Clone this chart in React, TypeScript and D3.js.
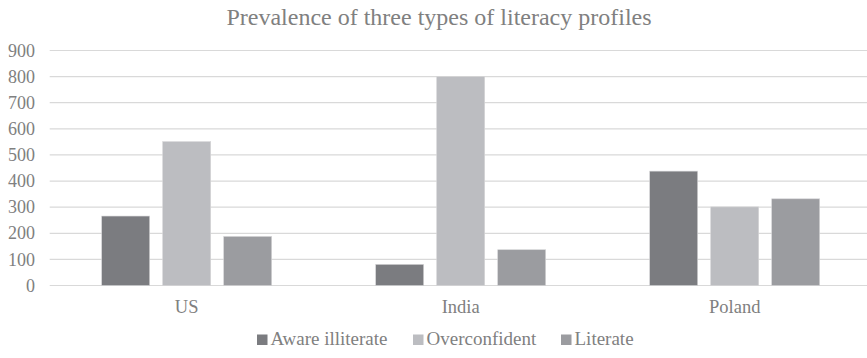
import React from "react";
import * as d3 from "d3";

// Countries on the category axis
const countries = ["US", "India", "Poland"];
// Literacy profile series
const profiles = ["Aware illiterate", "Overconfident", "Literate"];
const awareIlliterate = [266, 81, 438];
const overconfident = [551, 800, 301];
const literate = [188, 137, 332];
const yTicks = [0, 100, 200, 300, 400, 500, 600, 700, 800, 900];

const seriesValues = [awareIlliterate, overconfident, literate];
const colors = ["#7b7c80", "#bcbdc1", "#9b9ca0"];

const W = 867;
const H = 358;
const FONT = "Liberation Serif, DejaVu Serif, serif";
const TEXT = "#808080";

export default function App() {
  const x = d3.scaleBand<string>().domain(countries).range([49.7, 871.7]);
  const y = d3.scaleLinear().domain([0, 900]).range([285.5, 50.5]);
  const barW = 48;
  const barGap = 13;

  const legendX = [257, 413, 561];
  const txt = { fontFamily: FONT };

  return (
    <svg
      width={W}
      height={H}
      style={{ position: "absolute", left: 0, top: 0, background: "#fff", fontFamily: FONT }}
    >
      <text x={439} y={25} textAnchor="middle" fontSize={24} fill={TEXT} style={txt}>
        Prevalence of three types of literacy profiles
      </text>

      {yTicks.map((t) => (
        <g key={t}>
          <line x1={49.7} x2={W} y1={y(t)} y2={y(t)} stroke="#d9d9d9" strokeWidth={1.2} />
          <text x={35} y={y(t)} dy="0.34em" textAnchor="end" fontSize={18} fill={TEXT} style={txt}>
            {t}
          </text>
        </g>
      ))}

      {countries.map((c, ci) => {
        const center = (x(c) as number) + x.bandwidth() / 2;
        const groupW = barW * 3 + barGap * 2;
        const start = center - groupW / 2;
        return (
          <g key={c}>
            {seriesValues.map((vals, si) => (
              <rect
                key={si}
                x={start + si * (barW + barGap)}
                y={y(vals[ci])}
                width={barW}
                height={y(0) - y(vals[ci])}
                fill={colors[si]}
                stroke="#d6d6d8"
                strokeWidth={0.6}
              />
            ))}
            <text x={center} y={313} textAnchor="middle" fontSize={18.5} fill={TEXT} style={txt}>
              {c}
            </text>
          </g>
        );
      })}

      {profiles.map((p, i) => (
        <g key={p}>
          <rect x={legendX[i]} y={334.5} width={10.5} height={10.5} fill={colors[i]} />
          <text x={legendX[i] + 13.5} y={344.5} fontSize={19} fill={TEXT} style={txt}>
            {p}
          </text>
        </g>
      ))}
    </svg>
  );
}
